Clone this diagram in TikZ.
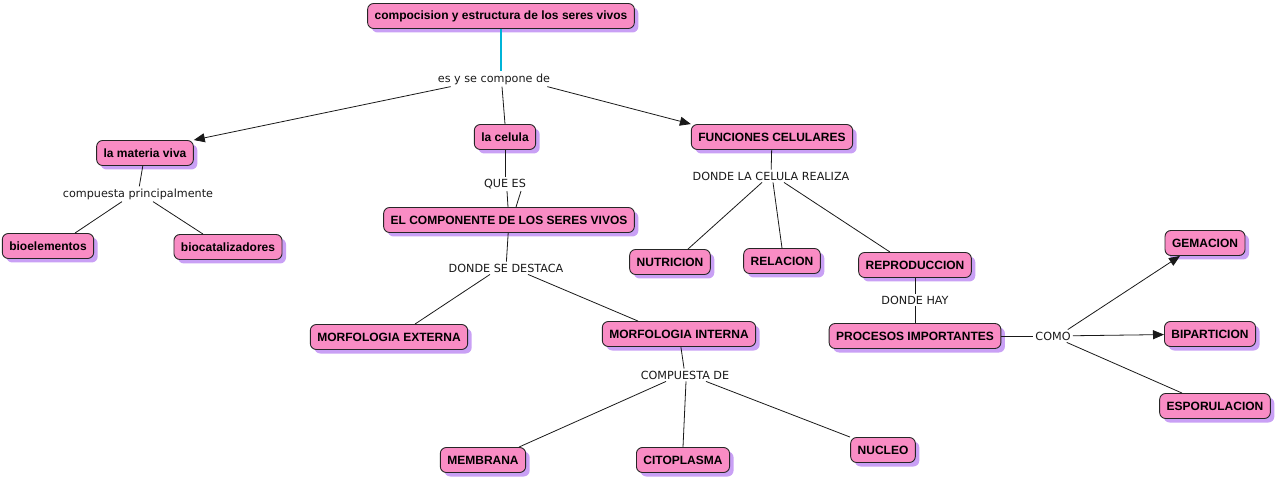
\documentclass[tikz,border=0pt]{standalone}
\usepackage{fontspec}
\setmainfont{Liberation Sans}
\newfontfamily\lblfont{DejaVu Sans}
\usetikzlibrary{arrows.meta,shadows}
\definecolor{nodepink}{HTML}{F98CC4}
\definecolor{shadowpurple}{HTML}{C9A0F5}
\definecolor{linkcyan}{HTML}{00B4D8}
\begin{document}
\begin{tikzpicture}[x=1pt,y=-1pt,
  concept/.style={draw=black!85, line width=0.9pt, fill=nodepink, rounded corners=6pt,
    minimum height=25pt, inner xsep=7pt, inner ysep=2pt,
    font=\fontsize{12}{14}\selectfont\bfseries,
    drop shadow={fill=shadowpurple, opacity=1, shadow xshift=4pt, shadow yshift=-4pt}},
  lbl/.style={inner sep=2pt, font=\lblfont\fontsize{11.2}{13}\selectfont, text=black!90},
  link/.style={draw=black!90, line width=0.8pt},
  cyanlink/.style={draw=linkcyan, line width=1.2pt},
  arr/.style={link, -{Triangle[length=11pt,width=9pt]}}]
\useasboundingbox (0,0) rectangle (1277,478);
% concepts
\node[concept] (root) at (501,16) {compocision y estructura de los seres vivos};
\node[concept] (mat) at (145,153) {la materia viva};
\node[concept] (cel) at (505,137) {la celula};
\node[concept] (fun) at (772,137) {FUNCIONES CELULARES};
\node[concept] (bio) at (48,246) {bioelementos};
\node[concept] (cat) at (228,247) {biocatalizadores};
\node[concept] (comp) at (509,220) {EL COMPONENTE DE LOS SERES VIVOS};
\node[concept] (nut) at (670,262) {NUTRICION};
\node[concept] (rel) at (782,261) {RELACION};
\node[concept] (rep) at (915,265) {REPRODUCCION};
\node[concept] (gem) at (1205,243) {GEMACION};
\node[concept] (bip) at (1210,334) {BIPARTICION};
\node[concept] (esp) at (1215,406) {ESPORULACION};
\node[concept] (pro) at (915,336) {PROCESOS IMPORTANTES};
\node[concept] (mext) at (389,337) {MORFOLOGIA EXTERNA};
\node[concept] (mint) at (679,334) {MORFOLOGIA INTERNA};
\node[concept] (mem) at (483,460) {MEMBRANA};
\node[concept] (cito) at (683,460) {CITOPLASMA};
\node[concept] (nuc) at (883,450) {NUCLEO};
% linking phrases
\node[lbl] (l1) at (494,79) {es y se compone de};
\node[lbl] (l2) at (138,194) {compuesta principalmente};
\node[lbl] (l3) at (505,184) {QUE ES};
\node[lbl] (l4) at (506,268) {DONDE SE DESTACA};
\node[lbl] (l5) at (771,176) {DONDE LA CELULA REALIZA};
\node[lbl] (l6) at (915,300) {DONDE HAY};
\node[lbl] (l7) at (1053,336) {COMO};
\node[lbl] (l8) at (685,375) {COMPUESTA DE};
% connectors
\draw[cyanlink] (root.south) -- (root.south |- l1.north);
\draw[arr] (l1.south west) ++(15,0) coordinate (a1) (a1) -- (mat.north east);
\draw[link] (l1.south) ++(8,0) coordinate (a2) (a2) -- (cel.north);
\draw[arr] (l1.south east) ++(-5,0) coordinate (a3) (a3) -- (fun.north west);
\draw[link] (mat) -- (l2);
\draw[link] (l2.south) ++(-16,0) coordinate (b1) (b1) -- ([xshift=27pt]bio.north);
\draw[link] (l2.south) ++(15,0) coordinate (b2) (b2) -- ([xshift=-25pt]cat.north);
\draw[link] (cel) -- (l3);
\draw[link] (l3.south) ++(2,0) coordinate (c1) (c1) -- ([xshift=-1pt]comp.north);
\draw[link] (l3.south) ++(16,0) coordinate (c2) (c2) -- ([xshift=7pt]comp.north);
\draw[link] (comp) -- (l4);
\draw[link] (l4.south) ++(-16,0) coordinate (d1) (d1) -- ([xshift=26pt]mext.north);
\draw[link] (l4.south) ++(22,0) coordinate (d2) (d2) -- ([xshift=-41pt]mint.north);
\draw[link] (fun) -- (l5);
\draw[link] (l5.south) ++(-9,0) coordinate (e1) (e1) -- ([xshift=18pt]nut.north);
\draw[link] (l5.south) ++(2,0) coordinate (e2) (e2) -- (rel.north);
\draw[link] (l5.south) ++(13,0) coordinate (e3) (e3) -- ([xshift=-25pt]rep.north);
\draw[link] (rep) -- (l6);
\draw[link] (l6) -- (pro);
\draw[link] (pro) -- (l7);
\draw[arr] (l7.north east) ++(-5,0) coordinate (f1) (f1) -- ([xshift=-25pt]gem.south);
\draw[arr] (l7) -- (bip);
\draw[link] (l7.south east) ++(-6,0) coordinate (f3) (f3) -- ([xshift=-33pt]esp.north);
\draw[link] (mint) -- (l8);
\draw[link] (l8.south) ++(-19,0) coordinate (g1) (g1) -- ([xshift=36pt]mem.north);
\draw[link] (l8.south) ++(1,0) coordinate (g2) (g2) -- (cito.north);
\draw[link] (l8.south) ++(21,0) coordinate (g3) (g3) -- ([xshift=-33pt]nuc.north);
\end{tikzpicture}
\end{document}
